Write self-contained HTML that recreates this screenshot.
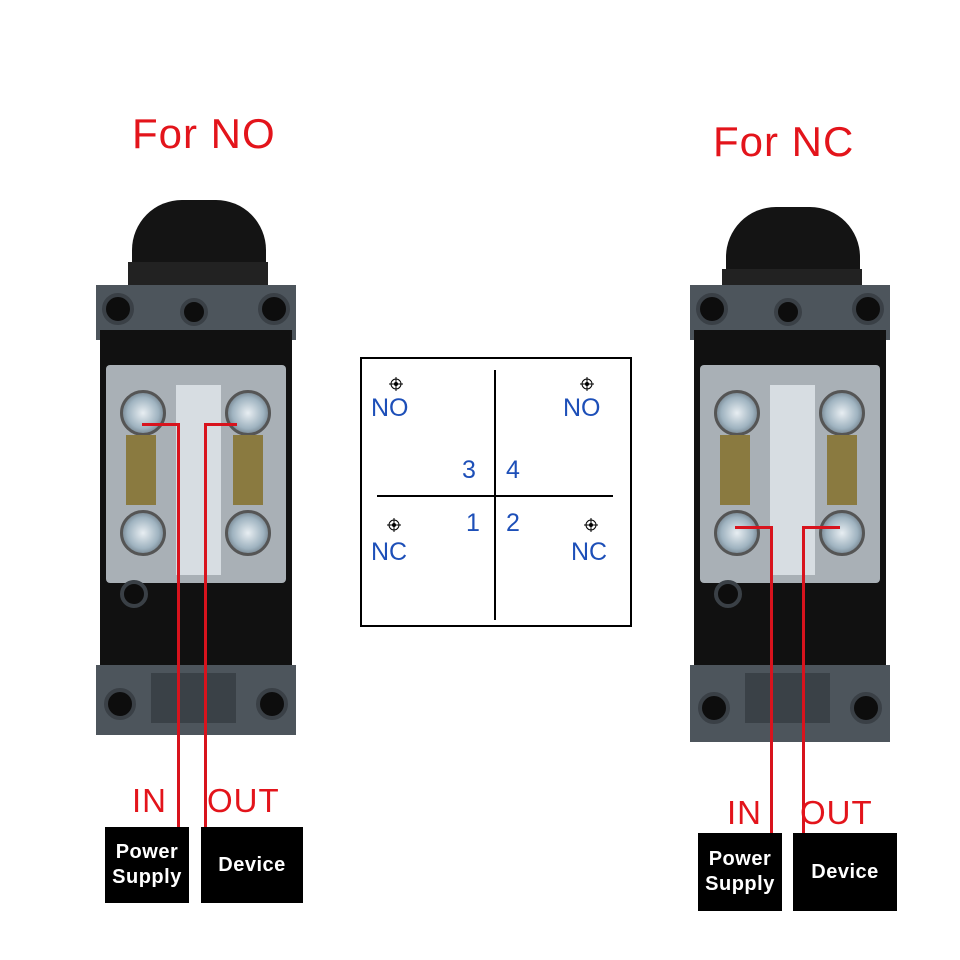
<!DOCTYPE html><html><head><style>
body{margin:0;width:960px;height:960px;background:#fff;position:relative;overflow:hidden;font-family:"Liberation Sans",sans-serif}
.a{position:absolute}
.sw{position:absolute;width:200px;height:545px}
.sw div{position:absolute}
.hole{background:#0d0d0d;border-radius:50%;border:4px solid #3a4046}
.scr{width:40px;height:40px;border-radius:50%;background:radial-gradient(circle,#e8eef2 0,#9fb3c0 55%,#4c5660 100%);border:3px solid #555}
.t{color:#e3141b;font-size:42px;letter-spacing:1px}
.r{background:#d8131d}
.box{background:#000;color:#fff;font-weight:bold;font-size:20px;text-align:center;display:flex;align-items:center;justify-content:center;line-height:25px;letter-spacing:0.5px}
.bl{color:#1d4fb8;font-size:25px}
</style></head><body>
<div class="a t" style="left:132px;top:110px">For NO</div>
<div class="a t" style="left:713px;top:118px">For NC</div>

<div class="sw" style="left:96px;top:195px">
<div style="left:36px;top:5px;width:134px;height:70px;background:#141414;border-radius:50px 50px 6px 6px"></div>
<div style="left:32px;top:67px;width:140px;height:25px;background:#222"></div>
<div style="left:0;top:90px;width:200px;height:55px;background:#4d555c"></div>
<div style="left:4px;top:135px;width:192px;height:340px;background:#111"></div>
<div style="left:10px;top:170px;width:180px;height:218px;background:#a9b0b6;border-radius:4px"></div>
<div style="left:80px;top:190px;width:45px;height:190px;background:#d7dde2"></div>
<div class="scr" style="left:24px;top:195px"></div><div class="scr" style="left:129px;top:195px"></div>
<div class="scr" style="left:24px;top:315px"></div><div class="scr" style="left:129px;top:315px"></div>
<div style="left:30px;top:240px;width:30px;height:70px;background:#8a7a40"></div>
<div style="left:137px;top:240px;width:30px;height:70px;background:#8a7a40"></div>
<div class="hole" style="left:6px;top:98px;width:24px;height:24px"></div>
<div class="hole" style="left:162px;top:98px;width:24px;height:24px"></div>
<div class="hole" style="left:84px;top:103px;width:20px;height:20px"></div>
<div style="left:0;top:470px;width:200px;height:70px;background:#4d555c"></div>
<div style="left:55px;top:478px;width:85px;height:50px;background:#3a4147"></div>
<div class="hole" style="left:8px;top:493px;width:24px;height:24px"></div>
<div class="hole" style="left:160px;top:493px;width:24px;height:24px"></div>
<div class="hole" style="left:24px;top:385px;width:20px;height:20px"></div>
</div>
<div class="sw" style="left:690px;top:202px">
<div style="left:36px;top:5px;width:134px;height:70px;background:#141414;border-radius:50px 50px 6px 6px"></div>
<div style="left:32px;top:67px;width:140px;height:25px;background:#222"></div>
<div style="left:0;top:83px;width:200px;height:55px;background:#4d555c"></div>
<div style="left:4px;top:128px;width:192px;height:340px;background:#111"></div>
<div style="left:10px;top:163px;width:180px;height:218px;background:#a9b0b6;border-radius:4px"></div>
<div style="left:80px;top:183px;width:45px;height:190px;background:#d7dde2"></div>
<div class="scr" style="left:24px;top:188px"></div><div class="scr" style="left:129px;top:188px"></div>
<div class="scr" style="left:24px;top:308px"></div><div class="scr" style="left:129px;top:308px"></div>
<div style="left:30px;top:233px;width:30px;height:70px;background:#8a7a40"></div>
<div style="left:137px;top:233px;width:30px;height:70px;background:#8a7a40"></div>
<div class="hole" style="left:6px;top:91px;width:24px;height:24px"></div>
<div class="hole" style="left:162px;top:91px;width:24px;height:24px"></div>
<div class="hole" style="left:84px;top:96px;width:20px;height:20px"></div>
<div style="left:0;top:463px;width:200px;height:77px;background:#4d555c"></div>
<div style="left:55px;top:471px;width:85px;height:50px;background:#3a4147"></div>
<div class="hole" style="left:8px;top:490px;width:24px;height:24px"></div>
<div class="hole" style="left:160px;top:490px;width:24px;height:24px"></div>
<div class="hole" style="left:24px;top:378px;width:20px;height:20px"></div>
</div>

<div class="a r" style="left:142px;top:423px;width:37px;height:3px"></div>
<div class="a r" style="left:177px;top:423px;width:3px;height:405px"></div>
<div class="a r" style="left:205px;top:423px;width:32px;height:3px"></div>
<div class="a r" style="left:204px;top:423px;width:3px;height:405px"></div>
<div class="a r" style="left:735px;top:526px;width:37px;height:3px"></div>
<div class="a r" style="left:770px;top:526px;width:3px;height:310px"></div>
<div class="a r" style="left:803px;top:526px;width:37px;height:3px"></div>
<div class="a r" style="left:802px;top:526px;width:3px;height:310px"></div>

<div class="a t" style="left:132px;top:782px;font-size:33px">IN</div>
<div class="a t" style="left:207px;top:782px;font-size:33px">OUT</div>
<div class="a t" style="left:727px;top:794px;font-size:33px">IN</div>
<div class="a t" style="left:800px;top:794px;font-size:33px">OUT</div>
<div class="a box" style="left:105px;top:827px;width:84px;height:76px">Power<br>Supply</div>
<div class="a box" style="left:201px;top:827px;width:102px;height:76px">Device</div>
<div class="a box" style="left:698px;top:833px;width:84px;height:78px">Power<br>Supply</div>
<div class="a box" style="left:793px;top:833px;width:104px;height:78px">Device</div>

<div class="a" style="left:360px;top:357px;width:268px;height:266px;border:2px solid #000"></div>
<div class="a" style="left:494px;top:370px;width:2px;height:250px;background:#000"></div>
<div class="a" style="left:377px;top:495px;width:236px;height:2px;background:#000"></div>
<div class="a bl" style="left:371px;top:394px">NO</div>
<div class="a bl" style="left:563px;top:394px">NO</div>
<div class="a bl" style="left:371px;top:538px">NC</div>
<div class="a bl" style="left:571px;top:538px">NC</div>
<div class="a bl" style="left:462px;top:456px">3</div>
<div class="a bl" style="left:506px;top:456px">4</div>
<div class="a bl" style="left:466px;top:509px">1</div>
<div class="a bl" style="left:506px;top:509px">2</div>
<svg class="a" style="left:0;top:0" width="960" height="960">
<g fill="none" stroke="#000" stroke-width="1">
<circle cx="396" cy="384" r="5"/><circle cx="587" cy="384" r="5"/><circle cx="394" cy="525" r="5"/><circle cx="591" cy="525" r="5"/>
<path d="M389 384h14M396 377v14M580 384h14M587 377v14M387 525h14M394 518v14M584 525h14M591 518v14"/></g>
<g fill="#000"><circle cx="396" cy="384" r="2"/><circle cx="587" cy="384" r="2"/><circle cx="394" cy="525" r="2"/><circle cx="591" cy="525" r="2"/></g>
</svg>
</body></html>
